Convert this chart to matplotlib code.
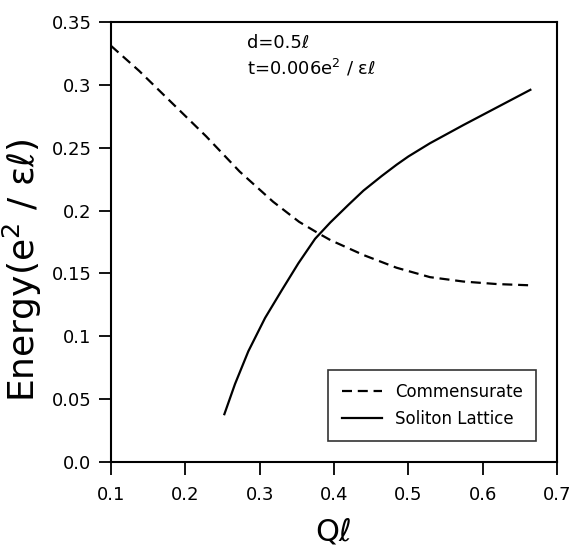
import numpy as np
import matplotlib
matplotlib.use("Agg")
import matplotlib.pyplot as plt

# commensurate state energy vs Q*l
q_comm = [0.100, 0.138, 0.183, 0.228, 0.273, 0.318, 0.353, 0.380, 0.395,
          0.440, 0.484, 0.529, 0.574, 0.619, 0.664]
e_comm = [0.331, 0.311, 0.285, 0.259, 0.231, 0.207, 0.191, 0.1815, 0.1765,
          0.1645, 0.1545, 0.147, 0.1435, 0.1415, 0.1405]

# soliton lattice energy vs Q*l
q_sol = [0.2525, 0.2668, 0.2847, 0.3072, 0.3296, 0.352, 0.3745, 0.395, 0.4193,
         0.4395, 0.4642, 0.4843, 0.500, 0.529, 0.574, 0.619, 0.664]
e_sol = [0.038, 0.062, 0.088, 0.1145, 0.1365, 0.158, 0.1775, 0.1905, 0.2045,
         0.2158, 0.2275, 0.2365, 0.243, 0.2535, 0.268, 0.282, 0.296]

xticks = [0.1, 0.2, 0.3, 0.4, 0.5, 0.6, 0.7]
yticks = [0.0, 0.05, 0.1, 0.15, 0.2, 0.25, 0.3, 0.35]
ytick_labels = ['0.0', '0.05', '0.1', '0.15', '0.2', '0.25', '0.3', '0.35']

fig = plt.figure(figsize=(5.72, 5.48), dpi=100)
ax = fig.add_axes([0.194, 0.157, 0.780, 0.803])

ax.plot(q_comm, e_comm, 'k--', lw=1.6, dashes=(4.5, 2.6), label='Commensurate')
ax.plot(q_sol, e_sol, 'k-', lw=1.6, label='Soliton Lattice')

ax.set_xlim(0.1, 0.7)
ax.set_ylim(0.0, 0.35)
ax.set_xticks(xticks)
ax.set_xticklabels([str(v) for v in xticks])
ax.set_yticks(yticks)
ax.set_yticklabels(ytick_labels)
ax.tick_params(direction='out', length=9, width=1.3, labelsize=13)
ax.tick_params(axis='x', pad=8)
ax.tick_params(axis='y', pad=5)
for s in ax.spines.values():
    s.set_linewidth(1.5)

ax.set_xlabel('Q\u2113', fontsize=22, labelpad=10)
ax.set_ylabel('Energy(e$^{2}$ / \u03b5\u2113)', fontsize=26)
ax.yaxis.set_label_coords(-0.150, 0.436)

ax.text(0.283, 0.329, 'd=0.5\u2113', fontsize=13)
ax.text(0.283, 0.308, 't=0.006e$^{2}$ / \u03b5\u2113', fontsize=13)

leg = ax.legend(loc='lower right', bbox_to_anchor=(0.972, 0.029), fontsize=12,
                frameon=True, fancybox=False, edgecolor='black',
                handlelength=2.4, borderpad=0.8)
leg.get_frame().set_linewidth(1.2)

fig.savefig('out.png', dpi=100)
